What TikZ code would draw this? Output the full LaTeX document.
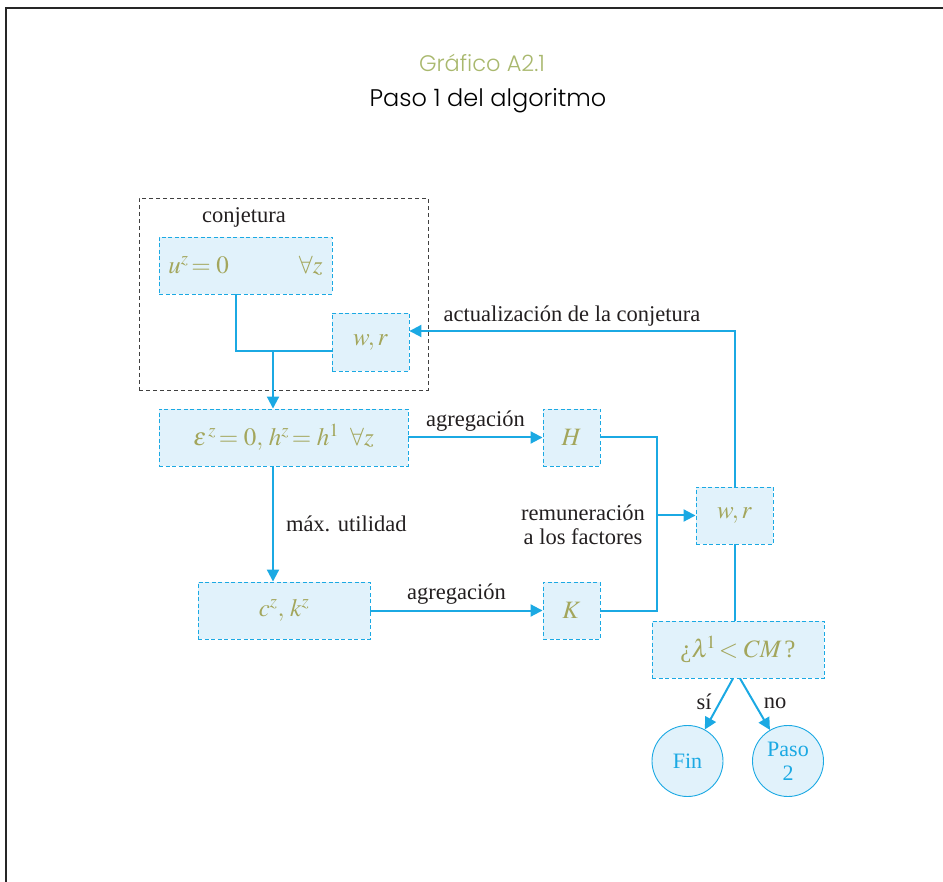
\documentclass[tikz,border=0pt]{standalone}
\usepackage{mathptmx}
\usepackage[no-math]{fontspec}
\setmainfont{Liberation Serif}
\newfontfamily\titlefont{Poppins Light}
\usetikzlibrary{arrows.meta,calc}

\definecolor{flowblue}{HTML}{1BA9E3}
\definecolor{boxfill}{HTML}{E1F2FB}
\definecolor{olivetext}{HTML}{A3A65C}
\definecolor{titleolive}{HTML}{A9B86E}
\definecolor{labelgray}{HTML}{231F20}

\tikzset{
  mathbox/.style={draw=flowblue, dash pattern=on 4pt off 2.5pt, line width=0.9pt,
    fill=boxfill, inner sep=0pt, text=olivetext,
    font=\fontsize{25}{28}\selectfont},
  endcircle/.style={circle, draw=flowblue, line width=0.9pt, fill=boxfill,
    minimum size=71pt, inner sep=0pt, text=flowblue, align=center,
    font=\fontsize{22}{24}\selectfont},
  wire/.style={draw=flowblue, line width=2pt},
  flow/.style={wire, -{Triangle[length=12pt,width=12pt]}},
  lbl/.style={text=labelgray, font=\fontsize{22.5}{24}\selectfont, inner sep=2pt},
  groupbox/.style={draw=black!75, dash pattern=on 4pt off 3pt, line width=0.9pt,
    inner sep=0pt}
}

\begin{document}
\begin{tikzpicture}[x=1pt, y=-1pt]
\useasboundingbox (0,0) rectangle (943,882);

% outer frame
\draw[line width=2pt, black!85] (6,882) -- (6,8) -- (943,8);

% heading
\node[font=\titlefont\fontsize{22.5}{24}\selectfont, text=titleolive] (gtitle) at (482,63) {Gráfico A2.1};
\node[font=\titlefont\fontsize{24}{26}\selectfont, text=black] (gsub) at (488,101) {Paso 1 del algoritmo};

% initial guess group
\node[groupbox, minimum width=289pt, minimum height=192pt] (conj) at (283.5,294) {};
\node[lbl] (conjlbl) at (244,217) {conjetura};

\node[mathbox, minimum width=173pt, minimum height=57pt] (u) at (245.5,265.5)
  {$u^{z}\!=0$\hspace{70pt}$\forall z$};
\node[mathbox, minimum width=77pt, minimum height=58pt] (wr1) at (370.5,342) {$w,r$};

\node[mathbox, minimum width=249pt, minimum height=57pt] (eps) at (283.5,437.5)
  {$\varepsilon^{\,z}\!=0,\,h^{z}\!=h^{1}\;\;\forall z$};
\node[mathbox, minimum width=57pt, minimum height=57pt] (H) at (571.5,437.5) {$H$};
\node[mathbox, minimum width=172pt, minimum height=57pt] (c) at (284,610.5) {$c^{z},\,k^{z}$};
\node[mathbox, minimum width=57pt, minimum height=57pt] (K) at (571.5,610.5) {$K$};
\node[mathbox, minimum width=77pt, minimum height=57pt] (wr2) at (734.5,515.5) {$w,r$};
\node[mathbox, minimum width=172pt, minimum height=57pt] (cm) at (738,649.5)
  {¿$\lambda^{\!1}\!<CM\,$?};

\node[endcircle] (fin) at (687.5,761) {Fin};
\node[endcircle] (paso) at (788,761) {Paso\\2};

% junction points
\coordinate (junc) at (273,351);
\coordinate (bus) at (657,515.5);

% connectors
\draw[wire] ([xshift=-9.5pt]u.south) |- (wr1.west |- junc);
\draw[flow] (junc) -- (eps.north -| junc);
\draw[flow] (eps.east) -- (H.west) node[midway, above=3pt, lbl] {agregación};
\draw[flow] (eps.south -| junc) -- (c.north -| junc)
  node[midway, right=10pt, lbl] {máx. utilidad};
\draw[flow] (c.east) -- (K.west) node[midway, above=3pt, lbl] {agregación};
\draw[wire] (H.east) -| (bus) |- (K.east);
\draw[flow] (bus) -- (wr2.west);
\node[lbl, align=center] (remlbl) at (583,525) {remuneración\\a los factores};
\draw[flow] (wr2.north) |- ([yshift=11pt]wr1.east)
  node[pos=0.75, above=2pt, lbl] {actualización de la conjetura};
\draw[wire] (wr2.south) -- (cm.north -| wr2.south);
\draw[flow] ([xshift=-5pt]cm.south) -- (fin);
\draw[flow] ([xshift=2pt]cm.south) -- (paso);
\node[lbl] (silbl) at (704,702) {sí};
\node[lbl] (nolbl) at (775,703) {no};
\end{tikzpicture}
\end{document}
